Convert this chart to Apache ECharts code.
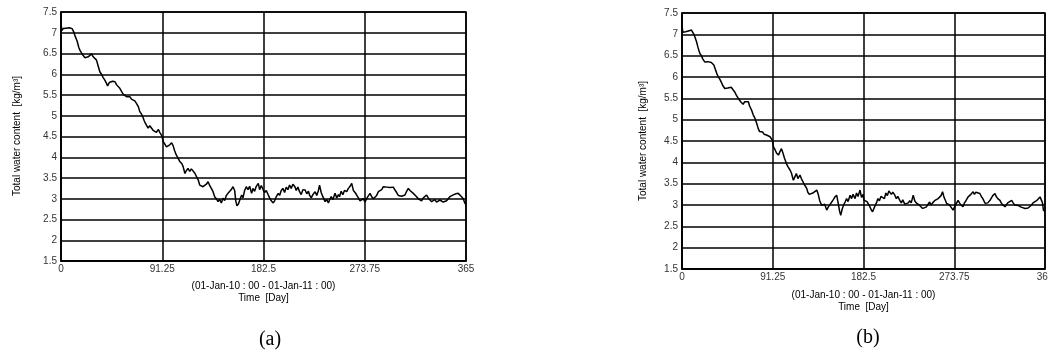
<!DOCTYPE html>
<html>
<head>
<meta charset="utf-8">
<script src="https://cdn.jsdelivr.net/npm/echarts@6/dist/echarts.min.js"></script>
<style>
html,body{margin:0;padding:0;background:#fff;}
#chart{width:1048px;height:356px;}
</style>
</head>
<body>
<div id="chart"></div>
<script>
// ---- data ----
const xTickLabels = ['0', '91.25', '182.5', '273.75', '365'];
const yTickLabels = ['1.5','2','2.5','3','3.5','4','4.5','5','5.5','6','6.5','7','7.5'];
const yAxisTitle = 'Total water content  [kg/m\u00B3]';
const xAxisSubtitle = '(01-Jan-10 : 00 - 01-Jan-11 : 00)';
const xAxisTitle = 'Time  [Day]';
const panelLabels = ['(a)', '(b)'];

const daysA = [0,0.8,2,3,4.5,6,7.5,9,10,11.5,13,14.5,16,17,18.5,20,21.6,23,24.5,26,27.6,29,30.5,32,33.5,35,36.5,38,39.5,41,42,43.5,45,46.5,48.7,50,51.5,53,54.7,56,57.5,59,60.5,62,63.5,65,66.5,68,69.7,71,72.3,73.6,75,76,77,78.5,80,81.7,83,84.7,86,87.7,89,90.4,91.3,92,93.5,95,96.5,98,99.7,101,102.5,104,105.5,107,108.8,110,111.7,113,114.5,116,117.5,119,120.5,122,123.7,125,126.5,128,129.5,131,132.5,134,135.5,137,138.5,140,141.5,143,144.5,146,147.5,149,150.5,152,153.5,155,156.5,157.5,158.6,160,161.5,162.8,164,165.5,167,168.5,170,171.8,173,174.5,176,177.8,179,180.5,182.3,183.5,185,186.8,188,189.5,191.3,192.5,194,195.8,197,198.5,200,201.5,203,204.5,206,207.5,209,210.8,212,213.5,215,216.5,218,220,221.5,223,224,225.5,227,229,230.5,232,233,234.5,236,238,239.5,241,242,243.5,245,247,248.5,250,251,252.5,254,255.5,257.5,259,260.5,262,263.5,265,266.5,268,269.5,271,272.5,274,275.5,277,278.5,280,281.5,283,284.5,286,287.5,289,290.5,292,293.5,295,296.5,298,299.5,301,302.5,304,305.5,307,308.5,310,311.5,313,314.5,316,317.5,319,320.5,322,323.5,325,326.5,328,329.5,331,332.5,334,335.5,337,338.5,340,341.5,343,344.5,346,347.5,349,350.5,352,354,356,358,359.5,361,362.5,364,365];
const valuesA = [7.23,7.05,7.10,7.06,7.11,7.09,7.12,7.15,7.10,7.02,6.90,6.80,6.65,6.58,6.55,6.45,6.40,6.38,6.42,6.40,6.49,6.42,6.38,6.34,6.20,6.06,6.00,5.92,5.86,5.78,5.72,5.80,5.78,5.83,5.82,5.75,5.78,5.66,5.58,5.52,5.50,5.46,5.42,5.46,5.40,5.44,5.36,5.30,5.22,5.10,5.05,4.98,4.88,4.82,4.78,4.70,4.76,4.74,4.65,4.62,4.60,4.67,4.60,4.54,4.48,4.38,4.32,4.25,4.22,4.30,4.35,4.28,4.15,4.05,3.98,3.90,3.85,3.78,3.61,3.68,3.73,3.66,3.72,3.69,3.62,3.58,3.45,3.33,3.30,3.29,3.32,3.35,3.41,3.32,3.25,3.17,3.05,3.00,2.93,2.98,2.90,3.01,2.96,3.08,3.13,3.10,3.22,3.29,3.20,2.95,2.83,2.88,3.00,3.09,3.02,3.20,3.29,3.22,3.30,3.13,3.25,3.18,3.30,3.37,3.22,3.32,3.21,3.15,3.20,3.09,3.02,2.95,2.90,2.95,3.05,3.13,3.08,3.20,3.25,3.15,3.28,3.22,3.33,3.25,3.35,3.29,3.20,3.28,3.17,3.10,3.22,3.21,3.12,3.18,3.09,3.02,3.10,3.17,3.08,3.20,3.33,3.15,3.05,2.93,2.98,2.90,2.97,3.05,2.98,3.13,3.02,3.10,3.05,3.18,3.10,3.20,3.17,3.25,3.30,3.37,3.20,3.15,3.09,3.02,2.95,2.93,3.00,2.92,3.01,3.05,3.13,3.05,3.00,2.97,3.08,3.17,3.15,3.22,3.29,3.25,3.28,3.27,3.27,3.25,3.28,3.21,3.15,3.08,3.05,3.06,3.10,3.09,3.18,3.25,3.20,3.18,3.13,3.15,3.05,3.00,2.97,2.95,3.02,3.05,3.09,3.02,2.98,2.93,2.96,2.98,2.92,2.93,2.97,2.95,2.92,2.89,2.95,3.00,3.05,3.07,3.10,3.12,3.13,3.10,3.05,3.00,2.89,2.87];

const daysB = [0,0.8,2,3.5,5,6.5,8,9.5,10.7,12,13.5,14.7,16,17,18,19.5,21,23,24.5,26,28,29.5,31,32,33.5,35,36.5,38,39.5,41,43,44.5,46,48,49.5,51,53,54.5,56,57.5,59,60,61.5,63,64.5,66.7,68,70,71.5,73.4,75,76.7,78,79.5,81,82.5,84,85,86.5,88.5,89.5,90.8,92,93.5,95,97,98.5,100,101.5,103,105,106.5,108.6,110,112,113.5,115,116.5,118.6,120,121.5,123,125.4,126.5,128,130,131.5,133,135.5,137,138.5,140.5,142,143.5,145.5,147,148.5,150.5,152,153.5,155.5,157,158.5,159.6,161,162.5,164,165.5,167,169,170.5,172,174,175.5,177,179,180.5,182,183,184.5,186,187,188.5,190,191.6,193,194.5,196,197,198.5,200,202,203.5,205,206.5,208,209,210.5,212,214,215.5,217,219,220.5,222,224,226,227.5,229,230.5,232.5,234,235.5,237,239,240.5,242,244,245.5,247,249,250.5,252,254,256,257.5,259,260.5,262,263.5,265,266,267.5,269,270.5,272.6,274,275.5,277.6,279,280.5,282.6,284,285.5,287.7,289,290.5,292.7,294,295.5,297,299.5,301,302.5,304.7,306,307.5,309.7,311,312.5,314.7,316,317.5,319.7,321,322.5,324.8,326,327.5,329,331.5,333,334.5,336,338,339.5,341,343,345,346.5,348,350,351.5,353,355,356.5,358,360,361.5,362.5,363.4,365];
const valuesB = [7.21,7.05,7.09,7.06,7.10,7.08,7.12,7.10,7.12,7.00,6.90,6.82,6.70,6.62,6.55,6.50,6.42,6.35,6.38,6.36,6.39,6.34,6.32,6.28,6.18,6.08,6.00,5.95,5.88,5.80,5.73,5.76,5.74,5.78,5.76,5.72,5.65,5.58,5.52,5.48,5.42,5.39,5.36,5.42,5.38,5.42,5.32,5.22,5.12,5.03,4.92,4.79,4.72,4.76,4.71,4.66,4.70,4.64,4.60,4.60,4.56,4.52,4.36,4.30,4.22,4.17,4.25,4.32,4.22,4.10,3.97,3.90,3.82,3.75,3.58,3.66,3.74,3.62,3.70,3.62,3.55,3.48,3.39,3.30,3.25,3.23,3.28,3.25,3.35,3.25,3.10,2.99,2.95,3.02,2.88,2.95,3.00,3.04,3.12,3.18,3.23,3.05,2.85,2.76,2.90,3.00,3.07,3.15,3.08,3.23,3.15,3.25,3.15,3.28,3.20,3.35,3.18,3.25,3.11,3.15,3.08,3.04,2.98,2.90,2.84,2.92,3.00,3.08,3.15,3.10,3.20,3.23,3.15,3.28,3.22,3.33,3.31,3.25,3.30,3.23,3.15,3.20,3.11,3.05,3.12,3.02,2.99,3.05,3.10,3.05,3.23,3.10,3.05,3.08,2.99,2.95,2.92,2.88,2.95,3.00,3.07,3.00,3.05,3.10,3.07,3.15,3.12,3.22,3.31,3.18,3.10,3.04,3.08,3.00,2.95,2.88,2.95,3.02,3.11,3.05,3.00,2.96,3.05,3.10,3.19,3.15,3.25,3.31,3.25,3.30,3.28,3.27,3.20,3.15,3.04,3.08,3.05,3.11,3.15,3.22,3.27,3.20,3.15,3.11,3.05,3.00,2.96,3.00,3.05,3.08,3.11,3.05,3.00,3.02,2.99,3.00,2.95,2.97,2.92,2.95,2.93,2.96,3.00,3.05,3.07,3.10,3.12,3.19,3.15,3.05,2.88,2.85];

// ---- build ----
const pairs = (d, v) => d.map((x, i) => [x, v[i]]);
const labelFont = { fontFamily: 'Liberation Sans, Arial, sans-serif', fontSize: 10, color: '#333' };

function xAxisFor(gi, margin) {
  return {
    gridIndex: gi, type: 'value', min: 0, max: 365, interval: 91.25,
    axisLine: { show: true, lineStyle: { color: '#000', width: 1.5 } },
    axisTick: { show: false },
    splitLine: { show: true, lineStyle: { color: '#000', width: 1.5 } },
    axisLabel: Object.assign({ margin: margin, showMinLabel: true, showMaxLabel: true,
      alignMinLabel: 'center', alignMaxLabel: 'center', hideOverlap: false,
      formatter: (val) => { const i = Math.round(val / 91.25); return xTickLabels[i] !== undefined ? xTickLabels[i] : ''; } }, labelFont)
  };
}
function yAxisFor(gi) {
  return {
    gridIndex: gi, type: 'value', min: 1.5, max: 7.5, interval: 0.5,
    axisLine: { show: true, lineStyle: { color: '#000', width: 1.5 } },
    axisTick: { show: false },
    splitLine: { show: true, lineStyle: { color: '#000', width: 1.5 } },
    axisLabel: Object.assign({ margin: 4,
      formatter: (val) => { const i = Math.round((val - 1.5) / 0.5); return yTickLabels[i] !== undefined ? yTickLabels[i] : ''; } }, labelFont)
  };
}

const chart = echarts.init(document.getElementById('chart'), null, { renderer: 'canvas' });
chart.setOption({
  animation: false,
  backgroundColor: '#fff',
  grid: [
    { left: 61, top: 12, width: 405, height: 249, show: true, borderColor: '#000', borderWidth: 1.5, containLabel: false, outerBoundsMode: 'none' },
    { left: 682, top: 13, width: 363, height: 256, show: true, borderColor: '#000', borderWidth: 1.5, containLabel: false, outerBoundsMode: 'none' }
  ],
  xAxis: [xAxisFor(0, 3), xAxisFor(1, 3)],
  yAxis: [yAxisFor(0), yAxisFor(1)],
  series: [
    { type: 'line', xAxisIndex: 0, yAxisIndex: 0, data: pairs(daysA, valuesA), showSymbol: false,
      lineStyle: { color: '#000', width: 1.5 } },
    { type: 'line', xAxisIndex: 1, yAxisIndex: 1, data: pairs(daysB, valuesB), showSymbol: false,
      lineStyle: { color: '#000', width: 1.5 } }
  ],
  graphic: [
    { type: 'text', x: 17, y: 136, rotation: Math.PI / 2,
      style: Object.assign({ text: yAxisTitle, align: 'center', verticalAlign: 'middle' }, labelFont) },
    { type: 'text', x: 643, y: 141, rotation: Math.PI / 2,
      style: Object.assign({ text: yAxisTitle, align: 'center', verticalAlign: 'middle' }, labelFont) },
    { type: 'text', x: 263.5, y: 286,
      style: Object.assign({ text: xAxisSubtitle, align: 'center', verticalAlign: 'middle' }, labelFont) },
    { type: 'text', x: 263.5, y: 298,
      style: Object.assign({ text: xAxisTitle, align: 'center', verticalAlign: 'middle' }, labelFont) },
    { type: 'text', x: 863.5, y: 295,
      style: Object.assign({ text: xAxisSubtitle, align: 'center', verticalAlign: 'middle' }, labelFont) },
    { type: 'text', x: 863.5, y: 307,
      style: Object.assign({ text: xAxisTitle, align: 'center', verticalAlign: 'middle' }, labelFont) },
    { type: 'text', x: 270, y: 340,
      style: { text: panelLabels[0], align: 'center', verticalAlign: 'middle', fontFamily: 'Liberation Serif, Times New Roman, serif', fontSize: 20, fill: '#000' } },
    { type: 'text', x: 868, y: 338,
      style: { text: panelLabels[1], align: 'center', verticalAlign: 'middle', fontFamily: 'Liberation Serif, Times New Roman, serif', fontSize: 20, fill: '#000' } }
  ]
});
</script>
</body>
</html>
